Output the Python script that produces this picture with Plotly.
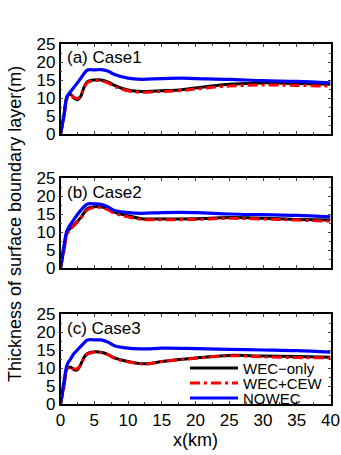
import plotly.graph_objects as go

# ---- data ----
x_c1 = [0, 0.5, 1, 1.5, 2, 2.5, 3, 3.5, 4, 5, 6, 7, 8, 10, 12, 15, 18, 20, 25, 30, 35, 40]
c1_wec = [0, 5, 10.5, 11, 10, 9.5, 10.5, 13, 14.5, 15, 15, 14.5, 13.5, 12.2, 11.8, 12, 12.3, 12.8, 13.8, 14.2, 14, 13.8]
c1_cew = [0, 4.5, 10, 10.8, 10.2, 9.8, 10.8, 13, 14.3, 14.8, 14.8, 14.2, 13.2, 12, 11.6, 11.8, 12.1, 12.5, 13.3, 13.6, 13.5, 13.3]
c1_now = [0, 5, 10.5, 11.8, 13, 14.2, 15.5, 16.8, 17.8, 17.8, 17.9, 17.5, 16.5, 15.5, 15.2, 15.4, 15.5, 15.4, 15.2, 14.8, 14.6, 14.2]

x_c2 = [0, 0.5, 1, 2, 3, 4, 5, 6, 7, 8, 10, 12, 15, 20, 25, 30, 35, 40]
c2_wec = [0, 5, 10, 12, 14, 16.5, 17, 17, 16.5, 15.5, 14.5, 13.7, 13.6, 13.7, 14, 13.8, 13.5, 13.3]
c2_cew = [0, 4.5, 9.5, 11.8, 13.8, 16.2, 16.8, 16.8, 16.2, 15.2, 14.2, 13.5, 13.4, 13.5, 13.8, 13.6, 13.3, 13.0]
c2_now = [0, 6, 10.5, 13.5, 16, 17.8, 17.8, 17.7, 17, 16, 15.4, 15.2, 15.4, 15.4, 15, 14.8, 14.6, 14.2]

x_c3 = [0, 0.5, 1, 1.5, 2, 2.5, 3, 3.5, 4, 5, 6, 7, 8, 10, 12, 13, 15, 20, 25, 30, 35, 40]
c3_wec = [0, 5, 10, 10.2, 9.5, 9.5, 11, 13, 14, 14.5, 14.4, 13.8, 12.8, 11.8, 11.2, 11.2, 11.8, 12.8, 13.5, 13.3, 13.2, 13.0]
c3_cew = [0, 4.5, 9.8, 10.3, 9.8, 9.8, 11, 12.8, 13.9, 14.4, 14.3, 13.7, 12.7, 11.7, 11.2, 11.2, 11.8, 12.7, 13.4, 13.1, 12.9, 12.8]
c3_now = [0, 6, 11, 12.5, 14, 15, 16, 17, 17.8, 17.8, 17.8, 17.2, 16.2, 15.5, 15.3, 15.3, 15.5, 15.4, 15.2, 15.0, 14.8, 14.4]

cases = [
    ("(a) Case1", x_c1, c1_wec, c1_cew, c1_now),
    ("(b) Case2", x_c2, c2_wec, c2_cew, c2_now),
    ("(c) Case3", x_c3, c3_wec, c3_cew, c3_now),
]
names = ["WEC\u2212only", "WEC+CEW", "NOWEC"]
x_ticks = [0, 5, 10, 15, 20, 25, 30, 35, 40]
y_ticks = [0, 5, 10, 15, 20, 25]

W, H = 341, 455
xdom = [60.5 / W, 330.5 / W]
ytops = [44, 178, 314]
ybots = [134, 268, 404]

FONT = "Liberation Sans, Arial, sans-serif"
styles = [
    dict(color="black", width=3),
    dict(color="red", width=3, dash="10px,4px,3px,4px"),
    dict(color="blue", width=3.2),
]

fig = go.Figure()
layout = dict(
    template="none",
    width=W, height=H, margin=dict(l=0, r=0, t=0, b=0, autoexpand=False),
    paper_bgcolor="white", plot_bgcolor="white",
    font=dict(family=FONT, size=16, color="black"),
    showlegend=False,
)
annotations = []
shapes = []
for i, (label, xs, w, c, n) in enumerate(cases):
    k = "" if i == 0 else str(i + 1)
    xa, ya = "x" + k, "y" + k
    for name, ys, st in zip(names, (w, c, n), styles):
        fig.add_trace(go.Scatter(x=xs, y=ys, mode="lines", name=name, line=dict(shape="spline", **st),
                                 xaxis=xa, yaxis=ya))
    layout["xaxis" + k] = dict(
        domain=xdom, range=[0, 40], tickvals=x_ticks, showticklabels=(i == 2), automargin=False,
        ticks="inside", ticklen=3, mirror="ticks", showline=True, linecolor="black", linewidth=1.5,
        showgrid=False, zeroline=False, anchor=ya, tickfont=dict(size=17),
        minor=dict(ticks="inside", ticklen=2, dtick=2.5, tick0=0),
    )
    layout["yaxis" + k] = dict(
        domain=[1 - ybots[i] / H, 1 - ytops[i] / H], range=[0, 25], tickvals=y_ticks, automargin=False,
        ticks="inside", ticklen=3, mirror="ticks", showline=True, linecolor="black", linewidth=1.5,
        showgrid=False, zeroline=False, anchor=xa, tickfont=dict(size=17),
        minor=dict(ticks="inside", ticklen=2, dtick=2.5, tick0=0),
    )
    annotations.append(dict(text=label, x=65 / W, y=1 - (ytops[i] + 14) / H, xref="paper", yref="paper",
                            xanchor="left", yanchor="middle", showarrow=False, font=dict(size=17)))

# legend (compact, inside panel c)
leg_rows = [368, 383, 398]
for name, st, yy in zip(names, styles, leg_rows):
    shapes.append(dict(type="line", xref="paper", yref="paper", x0=190 / W, x1=238 / W,
                       y0=1 - yy / H, y1=1 - yy / H, line=st))
    annotations.append(dict(text=name, x=241 / W, y=1 - yy / H, xref="paper", yref="paper",
                            xanchor="left", yanchor="middle", showarrow=False, font=dict(size=15)))

annotations.append(dict(text="x(km)", x=(xdom[0] + xdom[1]) / 2, y=1 - 440 / H, xref="paper", yref="paper",
                        xanchor="center", yanchor="middle", showarrow=False, font=dict(size=18)))
annotations.append(dict(text="Thickness of surface boundary layer(m)", x=15 / W, y=1 - 224 / H,
                        xref="paper", yref="paper", textangle=-90, xanchor="center", yanchor="middle",
                        showarrow=False, font=dict(size=18)))
layout["annotations"] = annotations
layout["shapes"] = shapes
fig.update_layout(**layout)
fig.write_html("out.html", config={"displayModeBar": False},
               post_script="document.body.style.margin='0';document.body.style.padding='0';")
